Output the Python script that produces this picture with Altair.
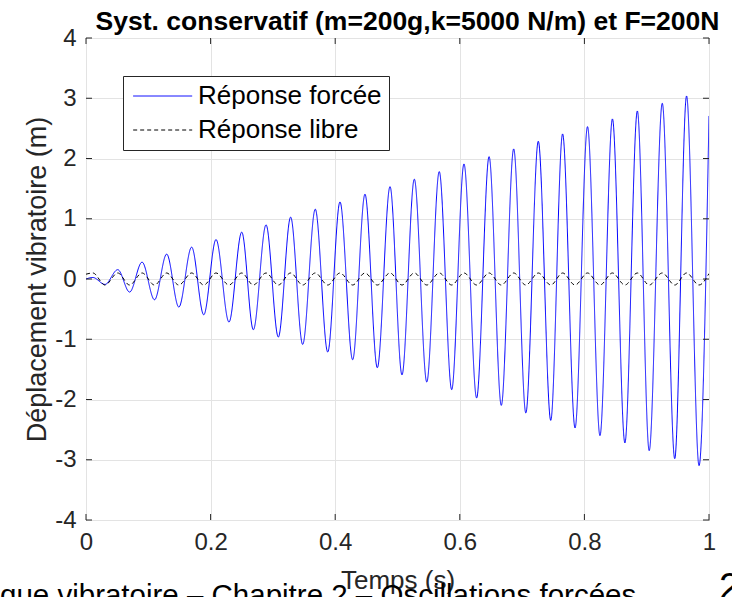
import altair as alt
import pandas as pd

# ---------------- data ----------------
series_names = ["Réponse forcée", "Réponse libre"]

# times of the extrema (s)
t_ext = [0.0, 0.011, 0.0305,
         0.051, 0.070, 0.090, 0.110, 0.1295, 0.149, 0.1696, 0.189,
         0.2087, 0.2295, 0.250, 0.2686, 0.289, 0.3087, 0.3285, 0.3478,
         0.368, 0.388, 0.4077, 0.428, 0.4478, 0.4676, 0.488, 0.5072,
         0.527, 0.547, 0.567, 0.587, 0.6067, 0.627, 0.647, 0.6666,
         0.6865, 0.706, 0.726, 0.746, 0.765, 0.785, 0.805, 0.825,
         0.845, 0.865, 0.885, 0.904, 0.925, 0.945, 0.964, 0.984, 1.0]

# forced response (m) at those times
forced = [0.0, 0.025, -0.09,
          0.155, -0.217, 0.28, -0.345, 0.413, -0.466, 0.529, -0.594,
          0.655, -0.715, 0.778, -0.842, 0.899, -0.964, 1.027, -1.086,
          1.159, -1.212, 1.28, -1.34, 1.408, -1.473, 1.534, -1.592,
          1.657, -1.71, 1.783, -1.837, 1.91, -1.975, 2.031, -2.098,
          2.159, -2.224, 2.287, -2.347, 2.408, -2.473, 2.529, -2.6,
          2.657, -2.721, 2.789, -2.849, 2.917, -2.982, 3.038, -3.098, 2.706]

# free response (m) at those times
libre = [0.08, 0.1, -0.1,
         0.1, -0.1, 0.1, -0.1, 0.1, -0.1, 0.1, -0.1,
         0.1, -0.1, 0.1, -0.1, 0.1, -0.1, 0.1, -0.1,
         0.1, -0.1, 0.1, -0.1, 0.1, -0.1, 0.1, -0.1,
         0.1, -0.1, 0.1, -0.1, 0.1, -0.1, 0.1, -0.1,
         0.1, -0.1, 0.1, -0.1, 0.1, -0.1, 0.1, -0.1,
         0.1, -0.1, 0.1, -0.1, 0.1, -0.1, 0.1, -0.1, 0.09]

x_ticks = [0, 0.2, 0.4, 0.6, 0.8, 1]
y_ticks = [-4, -3, -2, -1, 0, 1, 2, 3, 4]

title_text = "Syst. conservatif (m=200g,k=5000 N/m) et F=200N"
x_title = "Temps (s)"
y_title = "Déplacement vibratoire (m)"
footer_left = ["que vibratoire – Chapitre 2 – Oscillations forcées"]
footer_right = ["2"]

# ---------------- build ----------------
assert len(t_ext) == len(forced) == len(libre)
rows = []
for t, v in zip(t_ext, forced):
    rows.append({"t": t, "v": v, "serie": series_names[0]})
for t, v in zip(t_ext, libre):
    rows.append({"t": t, "v": v, "serie": series_names[1]})
df = pd.DataFrame(rows)

FONT = "Liberation Sans"
INK = "#262626"
GRID = "#e3e3e3"
W, H = 623, 482
TL = 6  # inward tick length

x_scale = alt.Scale(domain=[0, 1], nice=False, zero=False)
y_scale = alt.Scale(domain=[-4, 4], nice=False)

legend = alt.Legend(
    title=None, orient="none", legendX=37, legendY=38, direction="vertical",
    fillColor="white", strokeColor=INK, padding=7,
    symbolType="M-1,0H5", symbolSize=387, symbolStrokeWidth=1,
    labelFont=FONT, labelFontSize=26, labelColor="black", labelLimit=400,
    labelOffset=42, rowPadding=8, cornerRadius=0,
)

lines = alt.Chart(df).mark_line(interpolate="monotone", strokeWidth=1, clip=True).encode(
    x=alt.X("t:Q", scale=x_scale, axis=alt.Axis(
        values=x_ticks, labelExpr="'' + datum.value", title=x_title,
        labelFont=FONT, labelFontSize=24, labelColor=INK, labelPadding=10, labelFlush=False,
        titleFont=FONT, titleFontSize=26, titleFontWeight="normal", titleColor=INK, titlePadding=13,
        ticks=False, domain=False, grid=True, gridColor=GRID, gridWidth=1)),
    y=alt.Y("v:Q", scale=y_scale, axis=alt.Axis(
        values=y_ticks, labelExpr="'' + datum.value", title=y_title,
        labelFont=FONT, labelFontSize=24, labelColor=INK, labelPadding=10,
        titleFont=FONT, titleFontSize=27, titleFontWeight="normal", titleColor=INK, titlePadding=3,
        ticks=False, domain=False, grid=True, gridColor=GRID, gridWidth=1)),
    color=alt.Color("serie:N", scale=alt.Scale(domain=series_names, range=["#0000ff", "#000000"]), legend=legend),
    strokeDash=alt.StrokeDash("serie:N", scale=alt.Scale(domain=series_names, range=[[1, 0], [4, 3]]), legend=legend),
)

xt = pd.DataFrame({"t": x_ticks})
yt = pd.DataFrame({"v": y_ticks})
tick_bottom = alt.Chart(xt).mark_rule(color=INK, strokeWidth=1).encode(
    x=alt.X("t:Q", scale=x_scale), y=alt.value(H), y2=alt.value(H - TL))
tick_top = alt.Chart(xt).mark_rule(color=INK, strokeWidth=1).encode(
    x=alt.X("t:Q", scale=x_scale), y=alt.value(0), y2=alt.value(TL))
tick_left = alt.Chart(yt).mark_rule(color=INK, strokeWidth=1).encode(
    y=alt.Y("v:Q", scale=y_scale), x=alt.value(0), x2=alt.value(TL))
tick_right = alt.Chart(yt).mark_rule(color=INK, strokeWidth=1).encode(
    y=alt.Y("v:Q", scale=y_scale), x=alt.value(W - TL), x2=alt.value(W))

foot1 = alt.Chart(pd.DataFrame({"txt": footer_left})).mark_text(
    align="left", baseline="alphabetic", font=FONT, fontSize=29.5, color="black").encode(
    text="txt:N", x=alt.value(-86), y=alt.value(605 - 38))
foot2 = alt.Chart(pd.DataFrame({"txt": footer_right})).mark_text(
    align="left", baseline="alphabetic", font=FONT, fontSize=38, color="black").encode(
    text="txt:N", x=alt.value(719 - 86), y=alt.value(600 - 38))

chart = alt.layer(lines, tick_bottom, tick_top, tick_left, tick_right, foot1, foot2).properties(
    width=W, height=H,
    title=alt.TitleParams(text=title_text, font=FONT, fontSize=26.5, fontWeight="bold", color="black",
                          anchor="middle", dx=10, dy=17, offset=8),
    autosize=alt.AutoSizeParams(type="none"),
    padding={"left": 86, "top": 38, "right": 23, "bottom": 77},
    background="white",
).configure_view(stroke=INK, strokeWidth=1)

chart.save("out.html", embed_options={"renderer": "svg", "actions": False})
